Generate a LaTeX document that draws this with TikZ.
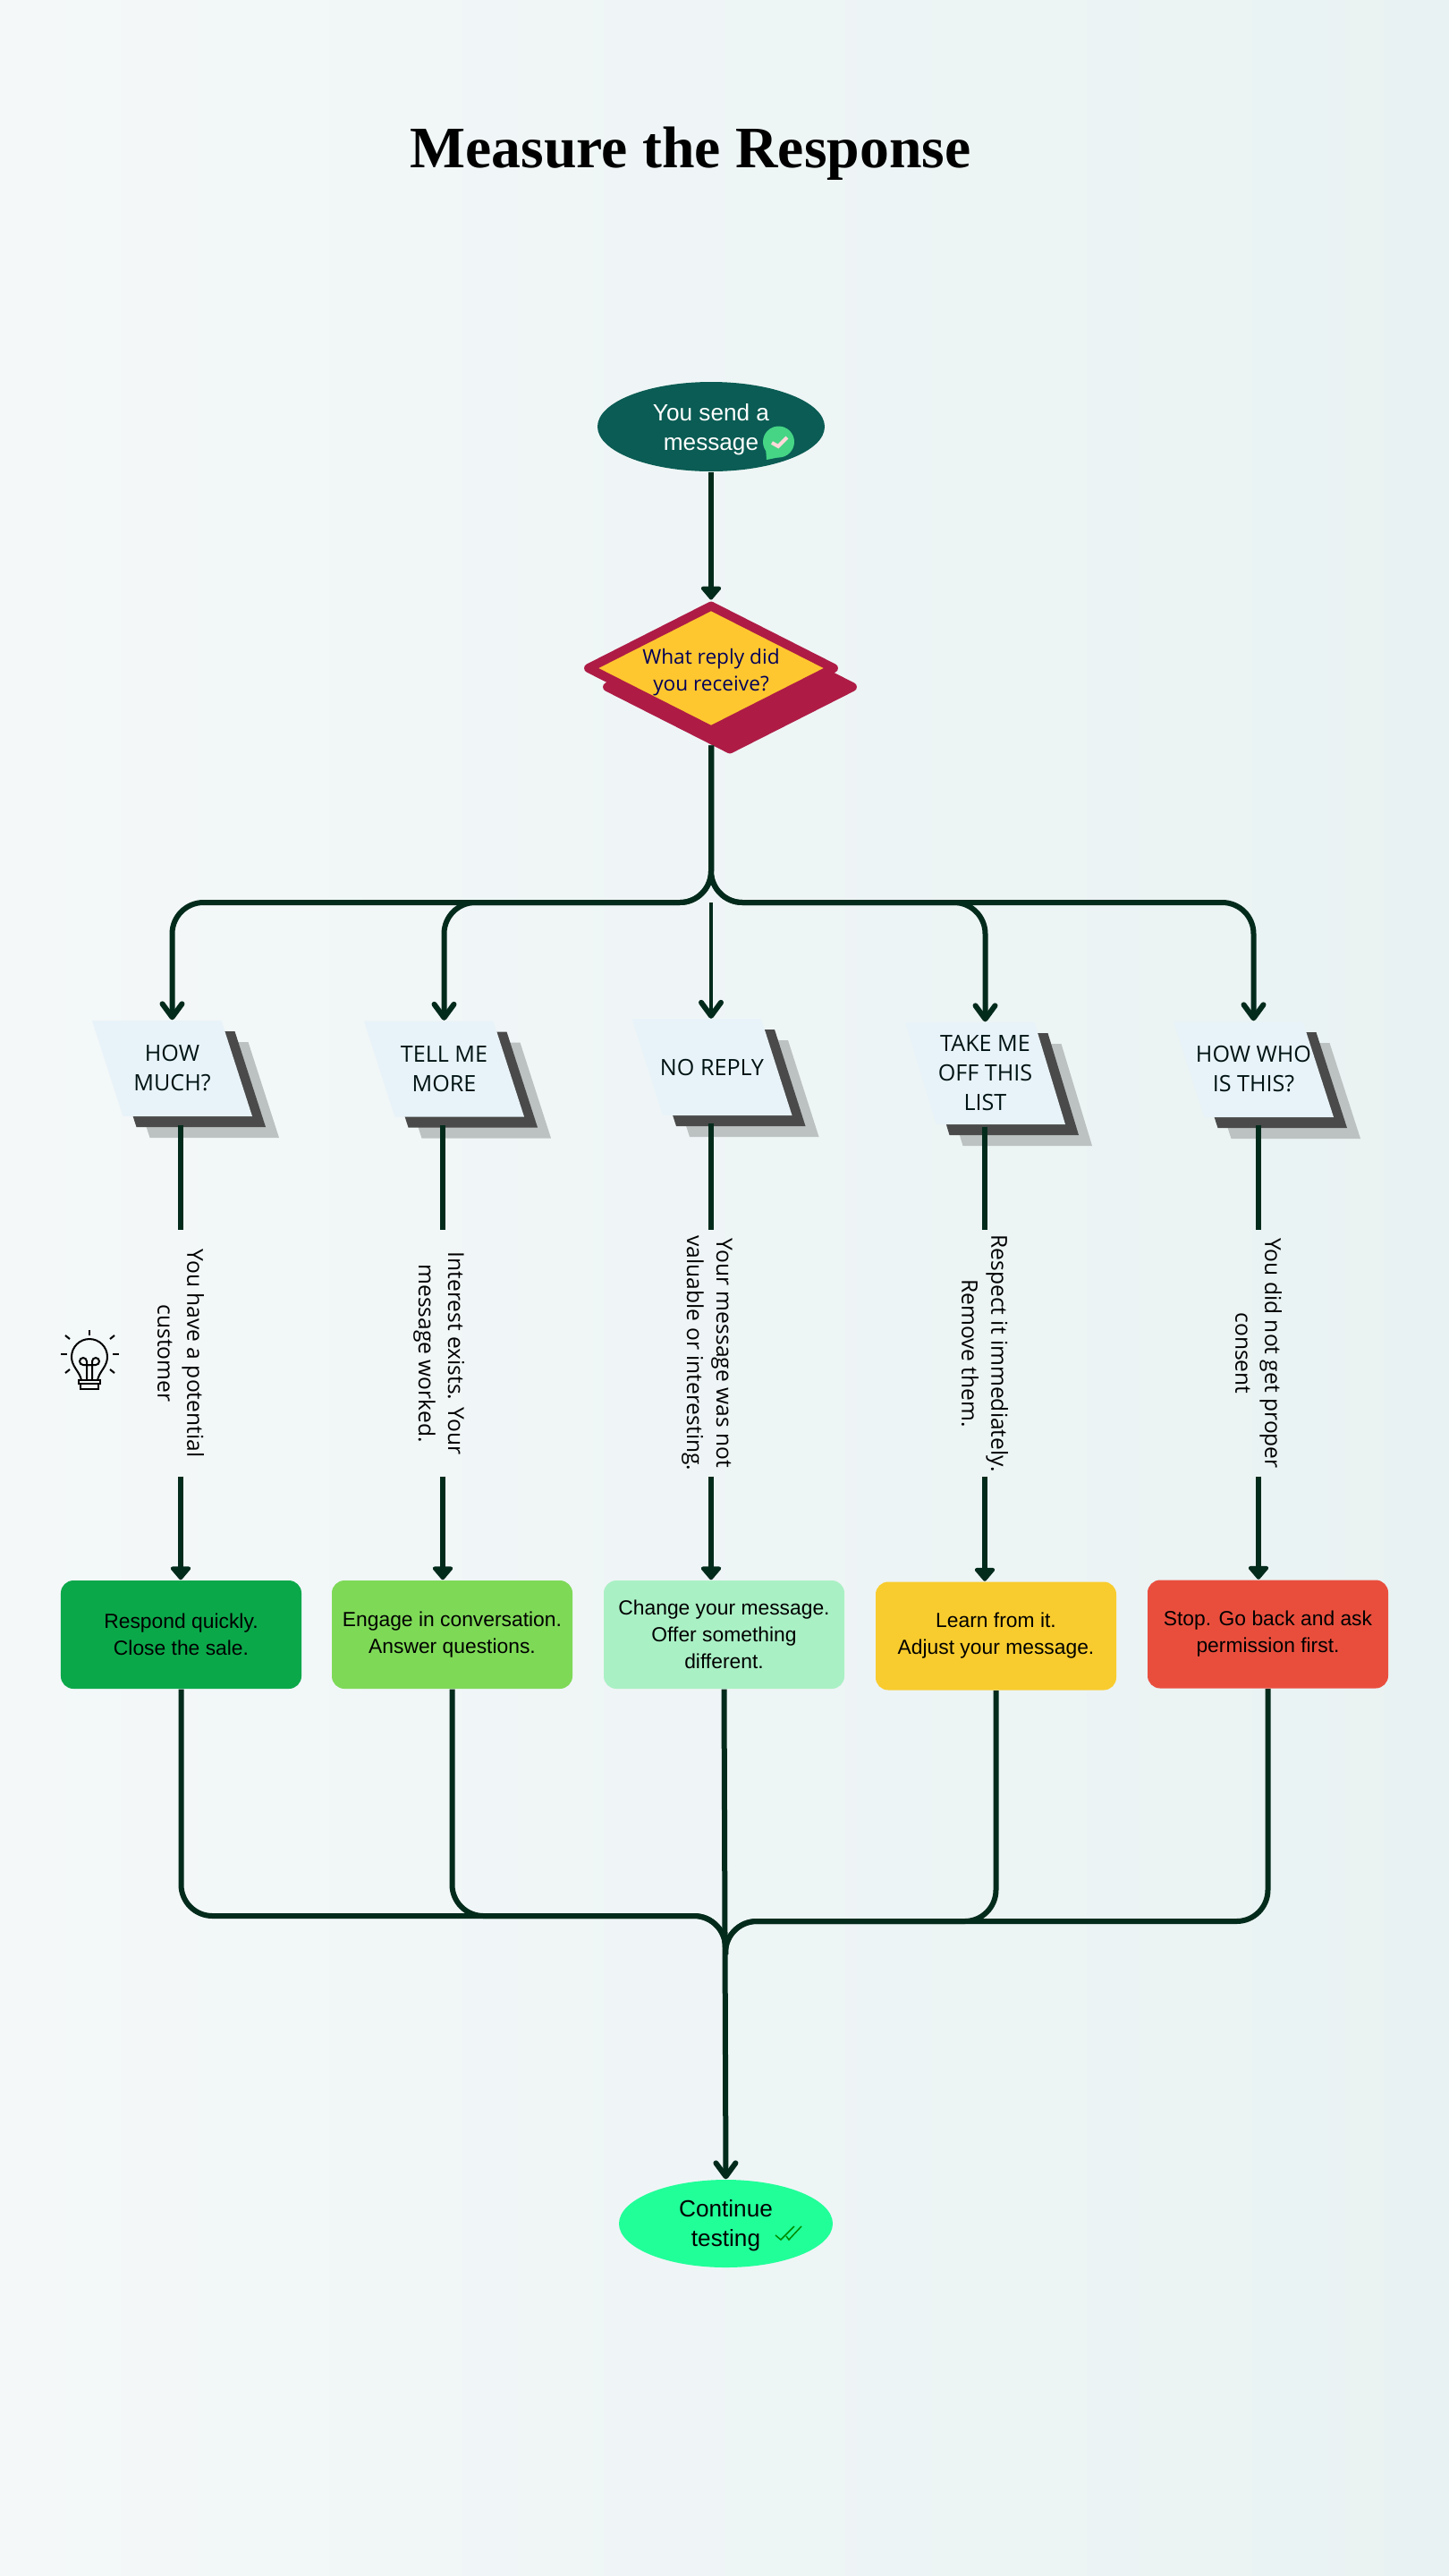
\documentclass[tikz,border=0pt]{standalone}
\usepackage{fontspec}
\setmainfont{Open Sans}
\newfontfamily\boxfont{Liberation Sans}
\newfontfamily\titlefont{Liberation Serif}
\usepackage{xcolor}
\usepackage{tikz}
\usetikzlibrary{arrows.meta,shapes.geometric,shadows}

\definecolor{inkGreen}{HTML}{032B1C}
\definecolor{startTeal}{HTML}{0A5C54}
\definecolor{crimson}{HTML}{AE1C46}
\definecolor{amber}{HTML}{FFC72F}
\definecolor{paleBlue}{HTML}{E8F3F9}
\definecolor{shadeDark}{HTML}{4A4A4A}
\definecolor{shadeLight}{HTML}{BCC1C1}
\definecolor{doneGreen}{HTML}{21FF99}
\definecolor{bubbleGreen}{HTML}{45D585}
\definecolor{bgLeft}{HTML}{F4F8F9}
\definecolor{bgRight}{HTML}{E9F2F2}

\tikzset{
	stemLine/.style={line width=.65mm,draw=inkGreen},
	stemTip/.style={stemLine,-{Triangle[round,length=1.6mm,width=2.6mm]}},
	fanLine/.style={line width=.6mm,draw=inkGreen,rounded corners=.35cm,-{Straight Barb[round,length=1.5mm,width=2.2mm,line width=.6mm]}},
	mergeLine/.style={line width=.6mm,draw=inkGreen,rounded corners=.35cm},
	askBox/.style={rectangle,minimum width=1.45cm,minimum height=1.07cm,inner sep=0,text=black!85!teal,align=center,
		font=\fontsize{7.15}{9.4}\selectfont},
	noteText/.style={rotate=-90,minimum width=2.74cm,inner sep=0,align=center,text=black,
		font=\fontsize{7}{9.4}\selectfont},
	replyBox/.style={rectangle,rounded corners=.14cm,minimum width=2.69cm,minimum height=1.21cm,inner sep=0,align=center,
		text=black,font=\boxfont\fontsize{6.5}{8.5}\selectfont},
	endOval/.style={ellipse,inner sep=0,align=center,font=\boxfont\fontsize{7.45}{9.3}\selectfont},
	bulbLine/.style={line width=.2mm,draw=black}
}

\newcommand{\askSlab}[3]{
	\fill[shadeLight,shift={(#1+.30,#2-.24)}] (-.895,#3) -- (.55,#3) -- (.895,-#3) -- (-.55,-#3) -- cycle;
	\fill[shadeDark,shift={(#1+.15,#2-.12)}] (-.895,#3) -- (.55,#3) -- (.895,-#3) -- (-.55,-#3) -- cycle;
	\fill[paleBlue,shift={(#1,#2)}] (-.895,#3) -- (.55,#3) -- (.895,-#3) -- (-.55,-#3) -- cycle;
}

\begin{document}
\begin{tikzpicture}
	\shade[left color=bgLeft,right color=bgRight] (0,0) rectangle (16.2,-28.8);

	\node[font=\titlefont\bfseries\fontsize{18.7}{22}\selectfont] (title) at (7.72,-1.72) {Measure the Response};

	\node[endOval,fill=startTeal,text=white,minimum width=2.54cm,minimum height=1cm] (start) at (7.95,-4.77) {\rule{0pt}{7.4pt}You send a\\message};
	\node[circle,fill=bubbleGreen,minimum size=.35cm,inner sep=0] (bubble) at (8.705,-4.94) {};
	\fill[bubbleGreen] (8.56,-5.00) -- (8.57,-5.14) -- (8.72,-5.11) -- cycle;
	\draw[line width=.4mm,draw=pink!60!white] (8.63,-4.95) -- (8.70,-4.99) -- (8.80,-4.89);

	\node[diamond,aspect=1.94,minimum width=2.78cm,minimum height=1.43cm,inner sep=0,line width=1mm,line join=round,
		draw=crimson,fill=amber,align=center,text=blue!35!black,font=\fontsize{6.45}{8.6}\selectfont,
		general shadow={shadow xshift=.21cm,shadow yshift=-.21cm,fill=crimson,draw=crimson}] (askReply) at (7.95,-7.47) {\rule{0pt}{7.7pt}What reply did\\you receive?};
	\draw[stemTip] (start.south) -- (askReply.north);

	\askSlab{1.925}{-11.945}{.535}
	\askSlab{4.965}{-11.95}{.535}
	\askSlab{7.96}{-11.93}{.54}
	\askSlab{11.015}{-12.00}{.57}
	\askSlab{14.015}{-11.955}{.535}
	\node[askBox] (askHow) at (1.925,-11.945) {HOW\\MUCH?};
	\node[askBox] (askTell) at (4.965,-11.95) {TELL ME\\MORE};
	\node[askBox] (askNone) at (7.96,-11.93) {NO REPLY};
	\node[askBox,minimum height=1.14cm] (askTake) at (11.015,-12.00) {TAKE ME\\OFF THIS\\LIST};
	\node[askBox] (askWho) at (14.015,-11.955) {HOW WHO\\IS THIS?};

	\coordinate (fork) at (7.95,-10.09);
	\draw[fanLine] ([yshift=-.10cm]askReply.south) -- (fork) -| (askHow.north);
	\draw[fanLine] ([yshift=-.10cm]askReply.south) -- (fork) -| (askTell.north);
	\draw[fanLine] ([yshift=-.10cm]askReply.south) -- (fork) -| (askTake.north);
	\draw[fanLine] ([yshift=-.10cm]askReply.south) -- (fork) -| (askWho.north);
	\draw[fanLine,line width=.45mm] (fork) -- (fork |- askNone.north);

	\node[noteText] (noteHow) at (2.02,-15.13) {You have a potential\\customer};
	\node[noteText] (noteTell) at (4.95,-15.13) {\rule{0pt}{7.6pt}Interest exists. Your\\message worked.};
	\node[noteText] (noteNone) at (7.95,-15.13) {\rule{0pt}{7.6pt}Your message was not\\valuable or interesting.};
	\node[noteText] (noteTake) at (11.01,-15.13) {Respect it immediately.\\Remove them.};
	\node[noteText] (noteWho) at (14.07,-15.13) {You did not get proper\\consent};

	\node[replyBox,fill={rgb,255:red,11;green,168;blue,74}] (replyHow) at (2.025,-18.275) {Respond quickly.\\Close the sale.};
	\node[replyBox,fill={rgb,255:red,126;green,217;blue,87}] (replyTell) at (5.055,-18.275) {Engage in conversation.\\Answer questions.};
	\node[replyBox,fill={rgb,255:red,170;green,240;blue,197}] (replyNone) at (8.095,-18.275) {Change your message.\\Offer something\\different.};
	\node[replyBox,fill={rgb,255:red,248;green,204;blue,46}] (replyTake) at (11.135,-18.29) {Learn from it.\\Adjust your message.};
	\node[replyBox,fill={rgb,255:red,233;green,78;blue,61}] (replyWho) at (14.175,-18.27) {Stop. Go back and ask\\permission first.};

	\draw[stemLine] ([yshift=-.09cm]noteHow.west |- askHow.south) -- (noteHow.west);
	\draw[stemLine] ([yshift=-.09cm]noteTell.west |- askTell.south) -- (noteTell.west);
	\draw[stemLine] ([yshift=-.09cm]noteNone.west |- askNone.south) -- (noteNone.west);
	\draw[stemLine] ([yshift=-.02cm]noteTake.west |- askTake.south) -- (noteTake.west);
	\draw[stemLine] ([yshift=-.08cm]noteWho.west |- askWho.south) -- (noteWho.west);

	\draw[stemTip] (noteHow.east) -- (noteHow.east |- replyHow.north);
	\draw[stemTip] (noteTell.east) -- (noteTell.east |- replyTell.north);
	\draw[stemTip] (noteNone.east) -- (noteNone.east |- replyNone.north);
	\draw[stemTip] (noteTake.east) -- (noteTake.east |- replyTake.north);
	\draw[stemTip] (noteWho.east) -- (noteWho.east |- replyWho.north);

	\node[endOval,fill=doneGreen,minimum width=2.39cm,minimum height=.98cm] (done) at (8.115,-24.86) {\rule{0pt}{6.7pt}Continue\\testing};
	\draw[line width=.15mm,draw=green!55!black] (8.67,-24.99) -- (8.73,-25.04) -- (8.88,-24.89);
	\draw[line width=.15mm,draw=green!55!black] (8.79,-25.00) -- (8.82,-25.04) -- (8.96,-24.89);

	\coordinate (joinLeft) at (8.11,-21.42);
	\coordinate (joinRight) at (8.11,-21.48);
	\coordinate (joinLow) at (8.11,-21.85);
	\draw[mergeLine] (replyHow.south) |- (joinLeft) [rounded corners=.28cm] -- (joinLow);
	\draw[mergeLine] (replyTell.south) |- (joinLeft) [rounded corners=.28cm] -- (joinLow);
	\draw[mergeLine] (replyTake.south) |- (joinRight) [rounded corners=.28cm] -- (joinLow);
	\draw[mergeLine] (replyWho.south) |- (joinRight) [rounded corners=.28cm] -- (joinLow);
	\draw[mergeLine,-{Straight Barb[round,length=1.5mm,width=2.2mm]}] (replyNone.south) -- (done.north);

	\draw[bulbLine] (.91,-15.43) .. controls (.89,-15.33) and (.80,-15.28) .. (.80,-15.17) arc [start angle=180,end angle=0,radius=.20] .. controls (1.20,-15.28) and (1.11,-15.33) .. (1.09,-15.43);
	\draw[bulbLine] (.88,-15.43) rectangle (1.12,-15.47);
	\draw[bulbLine] (.90,-15.47) rectangle (1.10,-15.53);
	\draw[bulbLine] (.97,-15.43) -- (.97,-15.22) arc [start angle=0,end angle=270,radius=.04] -- (1.03,-15.26);
	\draw[bulbLine] (1.03,-15.43) -- (1.03,-15.22) arc [start angle=180,end angle=-90,radius=.04] -- (.97,-15.26);
	\draw[bulbLine] (1,-14.87) -- (1,-14.93);
	\draw[bulbLine] (.68,-15.14) -- (.75,-15.14);
	\draw[bulbLine] (1.26,-15.14) -- (1.33,-15.14);
	\draw[bulbLine] (.73,-14.93) -- (.78,-14.97);
	\draw[bulbLine] (1.28,-14.93) -- (1.23,-14.97);
	\draw[bulbLine] (.73,-15.35) -- (.78,-15.31);
	\draw[bulbLine] (1.28,-15.35) -- (1.23,-15.31);
\end{tikzpicture}
\end{document}
